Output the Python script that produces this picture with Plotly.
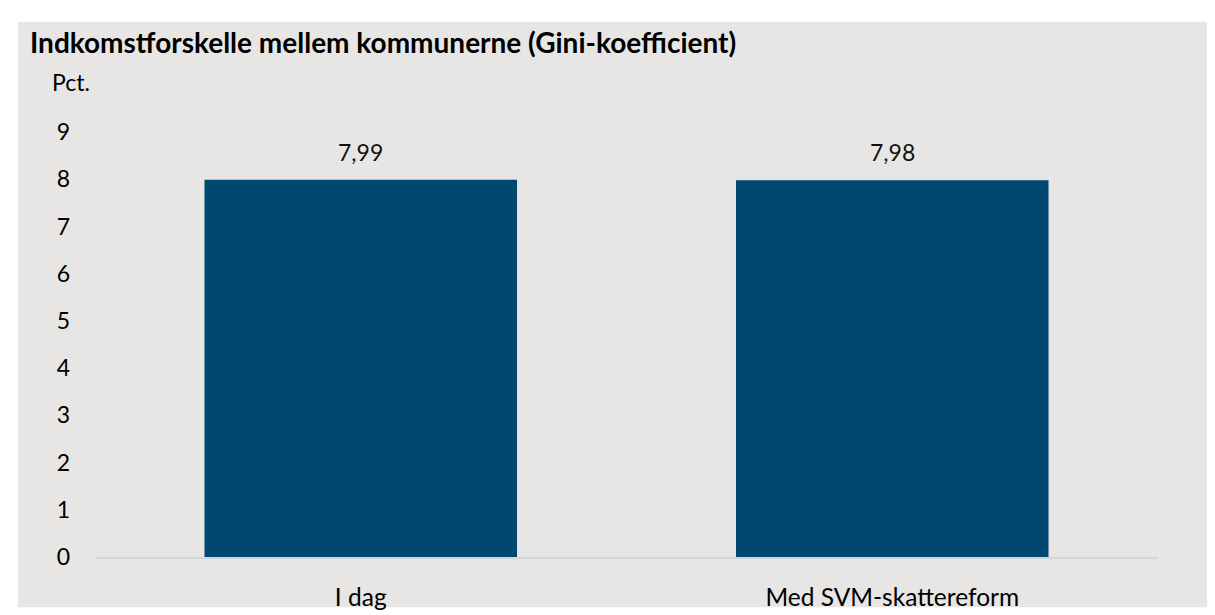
import plotly.graph_objects as go

categories = ["I dag", "Med SVM-skattereform"]
values = [7.99, 7.98]
y_ticks = [0, 1, 2, 3, 4, 5, 6, 7, 8, 9]

title_text = "Indkomstforskelle mellem kommunerne (Gini-koefficient)"
unit_text = "Pct."

BG = "#e7e6e5"
BAR = "#00486f"
FONT = "Lato"

W, H = 1215, 615
L, R, T, B = 87, 65, 124, 52
pw, ph = W - L - R, H - T - B

fig = go.Figure()
fig.add_trace(go.Bar(x=categories, y=values, marker=dict(color=BAR, line=dict(width=0)),
                     hoverinfo="skip"))

for c, v in zip(categories, values):
    fig.add_annotation(x=c, y=v, text=f"{v:.2f}".replace(".", ","), showarrow=False,
                       yanchor="bottom", yshift=12, font=dict(family=FONT, size=23, color="#111"))

fig.add_shape(type="rect", xref="paper", yref="paper",
              x0=(10 - L) / pw, x1=(W - L) / pw, y0=-B / ph, y1=(H - 10 - B) / ph,
              fillcolor=BG, line=dict(width=0), layer="below")

fig.add_annotation(xref="paper", yref="paper", x=(20 - L) / pw, y=(H - 31 - B) / ph,
                   xanchor="left", yanchor="middle", showarrow=False,
                   text=f"<b>{title_text}</b>", font=dict(family=FONT, size=28, color="#000"))
fig.add_annotation(xref="paper", yref="paper", x=(42 - L) / pw, y=(H - 72 - B) / ph,
                   xanchor="left", yanchor="middle", showarrow=False,
                   text=unit_text, font=dict(family=FONT, size=23, color="#000"))

fig.update_layout(
    width=W, height=H,
    margin=dict(l=L, r=R, t=T, b=B, pad=0),
    paper_bgcolor="white", plot_bgcolor=BG,
    bargap=0.412,
    showlegend=False,
    font=dict(family=FONT, size=23, color="#000"),
    xaxis=dict(showgrid=False, showline=True, linecolor="#d6d6d6", linewidth=2,
               ticks="", ticklabelstandoff=18, tickfont=dict(size=24.5)),
    yaxis=dict(range=[0, 9], tickvals=y_ticks, showgrid=False, zeroline=False, showline=False,
               ticks="", ticklabelstandoff=24, tickfont=dict(size=23)),
)

fig.write_html("out.html")
